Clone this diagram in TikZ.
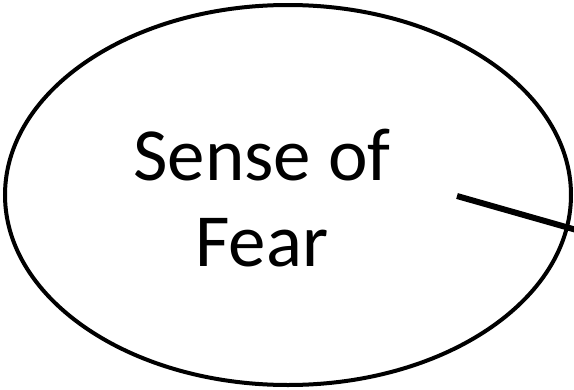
\documentclass[tikz,border=0pt]{standalone}
\usepackage{fontspec}
\setmainfont{Carlito}
\usetikzlibrary{shapes.geometric}
\begin{document}
\begin{tikzpicture}[x=1pt,y=-1pt,
  bubble/.style={draw=black,line width=4pt,fill=white},
  label/.style={font=\fontsize{75}{86}\selectfont,align=center,inner sep=0pt},
  connector/.style={draw=black,line width=6pt}]
\useasboundingbox (0,0) rectangle (574,389);
\begin{scope}
\clip (0,0) rectangle (574,389);
\draw[bubble] (288,195) ellipse [x radius=283, y radius=190];
\node[label] (txt) at (262,198) {Sense of\\Fear};
\coordinate (a) at (457,196);
\coordinate (b) at (580,231);
\draw[connector] (a) -- (b);
\end{scope}
\end{tikzpicture}
\end{document}
